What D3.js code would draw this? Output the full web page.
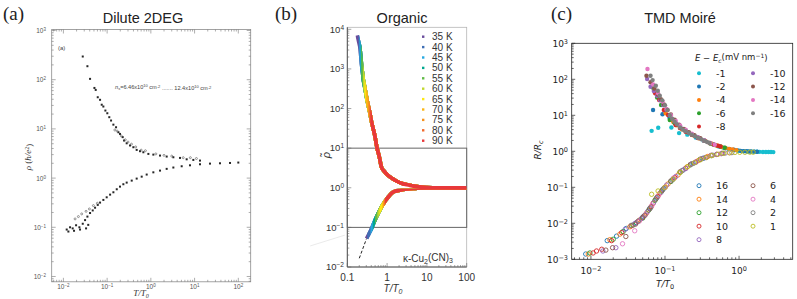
<!DOCTYPE html>
<html><head><meta charset="utf-8">
<script src="https://cdn.jsdelivr.net/npm/d3@7"></script>
<style>body{margin:0;background:#fff}svg{display:block}</style>
</head><body>
<svg id="chart" width="797" height="299"></svg>
<script>
// ================= DATA =================
// ---- Panel (a) Dilute 2DEG : [T/T0, rho (h/e^2)] ----
const aUpper = [[0.0277,296],[0.0354,188],[0.0407,104],[0.0512,68],[0.0548,62],[0.061,44],[0.0689,39],[0.0752,31],[0.082,28.5],[0.0912,23.6],[0.101,20.8],[0.112,17.3],[0.123,14.8],[0.139,12.2],[0.160,10.8],[0.181,8.55],[0.197,7.9],[0.227,6.8],[0.244,5.8],[0.280,5.1],[0.334,4.6],[0.398,4.24],[0.474,3.74],[0.565,3.52],[0.674,3.35],[0.877,3.10],[1.14,3.0],[1.62,2.87],[2.30,2.74],[3.27,2.65],[4.64,2.57],[6.59,2.41],[9.36,2.34],[13.3,2.27]];
const aUpperOpen = [[0.15,9.5],[0.17,9.0],[0.21,7.2],[0.26,6.0],[0.30,5.4],[0.36,4.9],[0.45,4.3],[0.60,3.7],[0.75,3.6],[1.3,3.1],[2.0,2.9],[3.0,2.8],[5.5,2.6],[8.0,2.6],[11,2.5]];
const aLower = [[0.0119,0.090],[0.0130,0.082],[0.0142,0.100],[0.0163,0.095],[0.0175,0.085],[0.0195,0.110],[0.0232,0.100],[0.0240,0.090],[0.0277,0.118],[0.0313,0.140],[0.033,0.095],[0.0354,0.165],[0.037,0.112],[0.0407,0.195],[0.0468,0.220],[0.0530,0.250],[0.061,0.285],[0.0689,0.318],[0.082,0.360],[0.0977,0.407],[0.117,0.461],[0.139,0.515],[0.166,0.593],[0.197,0.671],[0.235,0.750],[0.280,0.810],[0.365,0.889],[0.474,0.977],[0.617,1.07],[0.803,1.18],[1.14,1.31],[1.62,1.42],[2.30,1.54],[3.27,1.64],[5.07,1.74],[7.85,1.82],[13.3,1.91],[22.5,1.97],[38.1,2.0],[64.6,2.03],[100,2.07]];
const aLowerOpen = [[0.0185,0.148],[0.022,0.165],[0.0262,0.187],[0.033,0.211],[0.0393,0.236],[0.0485,0.276],[0.0598,0.308]];
const aXTicks = [0.01,0.1,1,10,100];
const aYTicks = [0.01,0.1,1,10,100,1000];

// ---- Panel (b) Organic : [T/T0, rho~] ----
const bUpper = [[0.178,7000],[0.193,4800],[0.209,3240],[0.219,2000],[0.229,1230],[0.240,830],[0.251,560],[0.269,380],[0.288,263],[0.309,178],[0.335,120],[0.372,74],[0.407,46],[0.447,31],[0.490,21],[0.562,9.8],[0.631,6.3],[0.724,3.3],[0.851,2.6],[1.06,2.04],[1.32,1.75],[1.72,1.48],[2.51,1.26],[3.72,1.15],[5.62,1.07],[9.66,1.01],[20,1.0],[40,1.0],[100,1.0]];
const bLower = [[0.305,0.0525],[0.355,0.0708],[0.407,0.0933],[0.468,0.132],[0.543,0.186],[0.631,0.251],[0.724,0.331],[0.822,0.407],[0.933,0.490],[1.10,0.603],[1.29,0.724],[1.58,0.813],[2.09,0.871],[3.16,0.933],[4.47,0.966],[6.31,0.984],[9.66,1.0],[20,1.0],[40,1.0],[100,1.0]];
const bDashed = [[0.2,0.0166],[0.305,0.0525]];
const bFaint = [[0.0117,0.034],[0.087,0.0638]];
const bTemps = ['35 K','40 K','45 K','50 K','55 K','60 K','65 K','70 K','75 K','80 K','90 K'];
const bColors = ['#6a4c9c','#3f6fb5','#27a9e1','#00a88f','#61bb46','#c1d72f','#fde814','#fbb616','#f6921e','#f16a2d','#e8383a'];
const bUpperStart = [0.178,0.214,0.226,0.243,0.251,0.279,0.302,0.327,0.367,0.40,0.427];
const bLowerStart = [0.305,0.355,0.43,0.49,0.56,0.64,0.72,0.85,0.90,0.95,1.0];
const bXTicks = [0.1,1,10,100];
const bXTickLabels = ['0.1','1','10','100'];
const bYTicks = [0.01,0.1,1,10,100,1000,10000];
const bBox = [0.1,10];

// ---- Panel (c) TMD Moire : [T/T0, R/Rc] ----
const cFilledLabels = ['-1','-2','-4','-6','-8','-10','-12','-14','-16'];
const cFilledColors = ['#17becf','#1f77b4','#ff7f0e','#2ca02c','#d62728','#9467bd','#8c564b','#e377c2','#7f7f7f'];
const cM1  = [[0.066,3.7],[0.081,4.5],[0.122,4.6],[0.155,3.2],[0.2,2.9],[0.26,2.4],[0.33,2.0],[0.42,1.62],[0.52,1.38],[0.62,1.25],[0.72,1.16],[0.85,1.09],[1.0,1.04],[1.15,1.01],[1.3,0.99],[1.45,0.98],[1.6,0.975],[1.75,0.97],[1.9,0.965],[2.1,0.96],[2.3,0.96],[2.5,0.955],[2.7,0.955],[2.9,0.95]];
const cM2  = [[0.069,14],[0.0925,10.7],[0.115,8.6],[0.14,6],[0.17,4.2],[0.21,3.2],[0.27,2.5],[0.35,1.95],[0.45,1.55],[0.55,1.35],[0.65,1.23],[0.75,1.15],[0.85,1.1],[0.95,1.06],[1.05,1.03],[1.15,1.01],[1.25,1.0],[1.35,0.99],[1.45,0.985],[1.6,0.98],[1.75,0.975]];
const cM4  = [[0.102,11.4],[0.129,6.6],[0.145,5.3],[0.17,4.1],[0.2,3.4],[0.24,2.8],[0.29,2.3],[0.35,1.95],[0.42,1.65],[0.5,1.45],[0.58,1.32],[0.66,1.23],[0.74,1.17],[0.82,1.12],[0.92,1.08]];
const cM6  = [[0.069,58],[0.0783,31],[0.0885,19.3],[0.1,14],[0.116,7.4],[0.135,6],[0.16,4.6],[0.19,3.6],[0.23,2.9],[0.28,2.35],[0.34,1.95],[0.41,1.66],[0.48,1.48],[0.56,1.36],[0.64,1.26]];
const cM8  = [[0.0736,41],[0.0834,26.6],[0.0964,14],[0.11,10.2],[0.139,5.4],[0.16,4.4],[0.19,3.5],[0.23,2.9],[0.28,2.35],[0.34,1.97],[0.4,1.7],[0.46,1.52],[0.52,1.42],[0.56,1.37]];
const cM10 = [[0.0574,102],[0.0638,62],[0.0706,47],[0.078,35],[0.086,26],[0.095,19],[0.105,14],[0.118,10],[0.135,7],[0.16,5],[0.19,3.8],[0.23,3.0],[0.28,2.4],[0.34,2.0]];
const cM12 = [[0.0562,126],[0.0638,83],[0.072,55],[0.08,38],[0.088,28],[0.097,20],[0.108,14],[0.12,10.5],[0.135,7.5],[0.155,5.5],[0.18,4.2],[0.21,3.4],[0.25,2.8],[0.3,2.3]];
const cM14 = [[0.058,193],[0.0692,72],[0.0807,41],[0.0925,24],[0.105,15],[0.12,10],[0.14,7],[0.16,5.2],[0.19,4],[0.23,3.1],[0.28,2.45],[0.34,2.0],[0.41,1.7],[0.47,1.52]];
const cM16 = [[0.0638,126],[0.068,95],[0.0752,66],[0.08,48],[0.0851,35],[0.092,26],[0.1,19],[0.108,14],[0.116,10],[0.125,8],[0.135,6.6],[0.145,5.6],[0.16,4.6],[0.175,4.0],[0.19,3.6],[0.21,3.2],[0.23,2.9],[0.255,2.6],[0.28,2.4],[0.31,2.15],[0.34,1.97],[0.37,1.82],[0.4,1.7]];
const cFilled = [cM1,cM2,cM4,cM6,cM8,cM10,cM12,cM14,cM16];

const cOpenLabels = ['16','14','12','10','8','6','4','2','1'];
const cOpenColors = ['#1f77b4','#ff7f0e','#2ca02c','#d62728','#9467bd','#8c564b','#e377c2','#7f7f7f','#bcbd22'];
const cP16 = [[0.0085,0.0014],[0.0166,0.0033],[0.0222,0.0044],[0.03,0.0072],[0.041,0.0104],[0.0507,0.0153],[0.0624,0.026],[0.0768,0.05],[0.094,0.088],[0.128,0.167],[0.175,0.30],[0.24,0.46],[0.33,0.64]];
const cP14 = [[0.0092,0.0014],[0.018,0.0035],[0.0246,0.005],[0.0336,0.008],[0.0457,0.0124],[0.0562,0.019],[0.069,0.036],[0.085,0.068],[0.11,0.124],[0.15,0.22],[0.2,0.37],[0.28,0.55],[0.38,0.72]];
const cP12 = [[0.0097,0.0015],[0.020,0.0036],[0.0272,0.0059],[0.037,0.0089],[0.05,0.014],[0.06,0.023],[0.073,0.043],[0.09,0.078],[0.12,0.145],[0.16,0.26],[0.22,0.42],[0.3,0.6],[0.42,0.76]];
const cP10 = [[0.0107,0.0015],[0.0119,0.0017],[0.014,0.0019],[0.019,0.0033],[0.026,0.0055],[0.035,0.0085],[0.043,0.0112],[0.053,0.0165],[0.065,0.029],[0.08,0.056],[0.1,0.1],[0.135,0.185],[0.19,0.34],[0.26,0.5],[0.36,0.68],[0.5,0.82]];
const cP8  = [[0.0145,0.0017],[0.0217,0.0021],[0.029,0.0068],[0.039,0.0098],[0.048,0.0135],[0.058,0.021],[0.07,0.037],[0.088,0.072],[0.105,0.115],[0.14,0.2],[0.19,0.33],[0.26,0.5],[0.35,0.67],[0.5,0.82],[0.65,0.89]];
const cP6  = [[0.0159,0.0018],[0.0196,0.0021],[0.0296,0.0043],[0.04,0.0095],[0.05,0.0145],[0.062,0.025],[0.075,0.047],[0.092,0.083],[0.12,0.15],[0.16,0.27],[0.22,0.43],[0.3,0.6],[0.42,0.77],[0.58,0.87]];
const cP4  = [[0.0267,0.0027],[0.039,0.0062],[0.045,0.0115],[0.055,0.018],[0.067,0.032],[0.082,0.06],[0.1,0.1],[0.13,0.18],[0.17,0.29],[0.23,0.45],[0.31,0.62],[0.42,0.77],[0.57,0.86],[0.75,0.91]];
const cP2  = [[0.035,0.0088],[0.044,0.0118],[0.054,0.017],[0.064,0.027],[0.078,0.052],[0.096,0.093],[0.125,0.16],[0.17,0.29],[0.23,0.45],[0.32,0.63],[0.44,0.78],[0.6,0.88],[0.8,0.92]];
const cP1  = [[0.066,0.064],[0.0807,0.079],[0.1,0.1],[0.13,0.17],[0.16,0.26],[0.2,0.37],[0.25,0.48],[0.3,0.58],[0.36,0.67],[0.43,0.76],[0.52,0.83],[0.62,0.88],[0.74,0.91],[0.88,0.93],[1.02,0.94],[1.2,0.94],[1.4,0.945],[1.55,0.945]];
const cOpen = [cP16,cP14,cP12,cP10,cP8,cP6,cP4,cP2,cP1];
const cXTicks = [0.01,0.1,1];
const cYTicks = [0.001,0.01,0.1,1,10,100,1000];

// ================= DRAW =================
const svg = d3.select('#chart');
svg.append('rect').attr('width',797).attr('height',299).attr('fill','#fff');

function decadeTicks(scale){
  const [a,b]=scale.domain(); const out=[];
  for(let k=Math.floor(Math.log10(a));k<=Math.ceil(Math.log10(b));k++){
    for(let m=1;m<=9;m++){const v=m*Math.pow(10,k); if(v>=a*0.999&&v<=b*1.001) out.push({v,major:m===1});}
  }
  return out;
}
function expLabel(t, v, supSize){
  const e=Math.round(Math.log10(v));
  t.append('tspan').text('10');
  t.append('tspan').attr('dy','-0.45em').attr('font-size',supSize).text(e<0?'\u2212'+(-e):String(e));
}

// ---------- Panel labels & titles ----------
const serif="'Liberation Serif','DejaVu Serif',serif";
const sans="'Liberation Sans',Arial,sans-serif";
const dj="'DejaVu Sans',sans-serif";
[['(a)',3],['(b)',275],['(c)',551]].forEach(([s,x])=>{
  svg.append('text').attr('x',x).attr('y',20).attr('font-family',serif).attr('font-size',19).attr('fill','#222').text(s);
});
[['Dilute 2DEG',143],['Organic',402],['TMD Moiré',680]].forEach(([s,x])=>{
  svg.append('text').attr('x',x).attr('y',23).attr('text-anchor','middle').attr('font-family',sans).attr('font-size',14.5).attr('fill','#222').text(s);
});

// ---------- Panel (a) ----------
{
  const x=d3.scaleLog().domain([0.0054,192]).range([51.7,250.7]);
  const y=d3.scaleLog().domain([0.0078,1000]).range([281.8,30.5]);
  const g=svg.append('g');
  const [L,R]=x.range(), [B,T]=y.range();
  g.append('rect').attr('x',L).attr('y',T-1).attr('width',R-L).attr('height',B-T+1).attr('fill','none').attr('stroke','#8c8c8c').attr('stroke-width',0.8);
  const tk=g.append('g').attr('stroke','#777').attr('stroke-width',0.6);
  decadeTicks(x).forEach(d=>{const px=x(d.v),l=d.major?4:2;
    tk.append('line').attr('x1',px).attr('x2',px).attr('y1',B).attr('y2',B-l);
    tk.append('line').attr('x1',px).attr('x2',px).attr('y1',T-1).attr('y2',T-1+l);});
  decadeTicks(y).forEach(d=>{const py=y(d.v),l=d.major?4:2;
    tk.append('line').attr('x1',L).attr('x2',L+l).attr('y1',py).attr('y2',py);
    tk.append('line').attr('x1',R).attr('x2',R-l).attr('y1',py).attr('y2',py);});
  aXTicks.forEach(v=>{const t=g.append('text').attr('x',x(v)).attr('y',289).attr('text-anchor','middle').attr('font-family',sans).attr('font-size',6.5).attr('fill','#555'); expLabel(t,v,'4.5px');});
  aYTicks.forEach(v=>{const t=g.append('text').attr('x',46).attr('y',y(v)+2.5).attr('text-anchor','end').attr('font-family',sans).attr('font-size',6.5).attr('fill','#555'); expLabel(t,v,'4.5px');});
  const yl=g.append('text').attr('transform','translate(31,157) rotate(-90)').attr('text-anchor','middle').attr('font-family',serif).attr('font-size',9).attr('fill','#333');
  yl.append('tspan').attr('font-style','italic').text('ρ');
  yl.append('tspan').text(' (');
  yl.append('tspan').attr('font-style','italic').text('h/e');
  yl.append('tspan').attr('dy','-0.4em').attr('font-size','6px').text('2');
  yl.append('tspan').attr('dy','0.4em').text(')');
  const xl=g.append('text').attr('x',141).attr('y',296).attr('text-anchor','middle').attr('font-family',serif).attr('font-size',9).attr('font-style','italic').attr('fill','#333');
  xl.append('tspan').text('T/T');
  xl.append('tspan').attr('dy','0.3em').attr('font-size','6px').text('0');
  g.append('text').attr('x',58).attr('y',50).attr('font-family',sans).attr('font-size',6).attr('fill','#444').text('(a)');
  const an=g.append('text').attr('x',115).attr('y',89).attr('font-family',sans).attr('font-size',5.6).attr('fill','#444');
  an.append('tspan').attr('font-style','italic').text('n');
  an.append('tspan').attr('dy','0.3em').attr('font-size','4px').text('s');
  an.append('tspan').attr('dy','-0.3em').text('=6.46x10');
  an.append('tspan').attr('dy','-0.4em').attr('font-size','4px').text('10');
  an.append('tspan').attr('dy','0.4em').text(' cm');
  an.append('tspan').attr('dy','-0.4em').attr('font-size','4px').text('-2');
  an.append('tspan').attr('dy','0.4em').text(' ....... 12.4x10');
  an.append('tspan').attr('dy','-0.4em').attr('font-size','4px').text('10');
  an.append('tspan').attr('dy','0.4em').text(' cm');
  an.append('tspan').attr('dy','-0.4em').attr('font-size','4px').text('-2');
  const pts=g.append('g');
  pts.selectAll('rect.u').data(aUpper.concat(aLower)).join('rect').attr('x',d=>x(d[0])-1).attr('y',d=>y(d[1])-1).attr('width',2).attr('height',2).attr('fill','#262626');
  pts.selectAll('circle.o').data(aUpperOpen.concat(aLowerOpen)).join('circle').attr('cx',d=>x(d[0])).attr('cy',d=>y(d[1])).attr('r',1).attr('fill','none').attr('stroke','#555').attr('stroke-width',0.6);
}

// ---------- Panel (b) ----------
{
  const x=d3.scaleLog().domain([0.1,100]).range([347.3,466.7]);
  const y=d3.scaleLog().domain([0.01,10000]).range([267,29.3]);
  const g=svg.append('g');
  const [L,R]=x.range(), [B,T]=y.range();
  g.append('rect').attr('x',L).attr('y',T-2).attr('width',R-L).attr('height',B-T+2).attr('fill','none').attr('stroke','#b5b5b5').attr('stroke-width',0.8);
  g.append('line').attr('x1',L).attr('x2',L).attr('y1',T-2).attr('y2',B).attr('stroke','#444').attr('stroke-width',0.9);
  g.append('line').attr('x1',L).attr('x2',R).attr('y1',B).attr('y2',B).attr('stroke','#444').attr('stroke-width',0.9);
  g.append('rect').attr('x',L).attr('y',y(bBox[1])).attr('width',R-L).attr('height',y(bBox[0])-y(bBox[1])).attr('fill','none').attr('stroke','#666').attr('stroke-width',1);
  const tk=g.append('g').attr('stroke','#666').attr('stroke-width',0.6);
  decadeTicks(x).forEach(d=>{const px=x(d.v),l=d.major?4:2; tk.append('line').attr('x1',px).attr('x2',px).attr('y1',B).attr('y2',B-l);});
  decadeTicks(y).forEach(d=>{const py=y(d.v),l=d.major?4:2; tk.append('line').attr('x1',L).attr('x2',L+l).attr('y1',py).attr('y2',py);});
  bXTicks.forEach((v,i)=>g.append('text').attr('x',x(v)).attr('y',281).attr('text-anchor','middle').attr('font-family',sans).attr('font-size',10).attr('fill','#333').text(bXTickLabels[i]));
  bYTicks.forEach(v=>{const t=g.append('text').attr('x',344).attr('y',y(v)+3.2).attr('text-anchor','end').attr('font-family',sans).attr('font-size',9.5).attr('fill','#333'); expLabel(t,v,'6.5px');});
  g.append('text').attr('transform','translate(330,155) rotate(-90)').attr('text-anchor','middle').attr('font-family',sans).attr('font-size',11).attr('font-style','italic').attr('fill','#333').text('ρ\u0303');
  const xl=g.append('text').attr('x',393).attr('y',292).attr('text-anchor','middle').attr('font-family',sans).attr('font-size',10).attr('font-style','italic').attr('fill','#333');
  xl.append('tspan').text('T/T');
  xl.append('tspan').attr('dy','0.3em').attr('font-size','7px').text('0');
  g.append('text').attr('x',428).attr('y',262).attr('text-anchor','middle').attr('font-family',sans).attr('font-size',10).attr('fill','#333')
    .call(t=>{t.append('tspan').text('κ-Cu'); t.append('tspan').attr('dy','0.3em').attr('font-size','7px').text('2'); t.append('tspan').attr('dy','-0.3em').text('(CN)'); t.append('tspan').attr('dy','0.3em').attr('font-size','7px').text('3');});
  const line=d3.line().x(d=>x(d[0])).y(d=>y(d[1])).curve(d3.curveMonotoneX);
  g.append('path').attr('d',line(bFaint)).attr('stroke','#e4e4e4').attr('stroke-width',0.8).attr('fill','none');
  g.append('path').attr('d',line(bDashed)).attr('stroke','#222').attr('stroke-width',1).attr('stroke-dasharray','3,2').attr('fill','none');
  const defs=svg.append('defs');
  bTemps.forEach((t,i)=>{
    defs.append('clipPath').attr('id','cu'+i).append('rect').attr('x',x(bUpperStart[i])-2).attr('y',0).attr('width',R-x(bUpperStart[i])+2).attr('height',y(1.12));
    defs.append('clipPath').attr('id','cl'+i).append('rect').attr('x',x(bLowerStart[i])-2).attr('y',y(1.0)+1).attr('width',R-x(bLowerStart[i])+2).attr('height',300);
  });
  bTemps.forEach((t,i)=>{
    g.append('path').attr('d',line(bUpper)).attr('clip-path',`url(#cu${i})`).attr('stroke',bColors[i]).attr('stroke-width',3.6).attr('fill','none');
    g.append('path').attr('d',line(bLower)).attr('clip-path',`url(#cl${i})`).attr('stroke',bColors[i]).attr('stroke-width',3.6).attr('fill','none');
  });
  defs.append('clipPath').attr('id','ctail').append('rect').attr('x',x(1.0)).attr('y',y(1.12)-1).attr('width',R-x(1.0)).attr('height',y(0.9)-y(1.12)+2);
  g.append('path').attr('d',line(bUpper)).attr('clip-path','url(#ctail)').attr('stroke',bColors[10]).attr('stroke-width',3.6).attr('fill','none');
  bTemps.forEach((t,i)=>{
    const yy=36.7+i*10.4;
    g.append('rect').attr('x',422).attr('y',yy-1.2).attr('width',2.4).attr('height',2.4).attr('fill',bColors[i]);
    g.append('text').attr('x',432).attr('y',yy+3.5).attr('font-family',sans).attr('font-size',10).attr('fill','#333').text(t);
  });
}

// ---------- Panel (c) ----------
{
  const x=d3.scaleLog().domain([0.0055,5.3]).range([571.7,792.7]);
  const y=d3.scaleLog().domain([0.001,1000]).range([259.3,43.3]);
  const g=svg.append('g');
  const [L,R]=x.range(), [B,T]=y.range();
  g.append('rect').attr('x',L).attr('y',T).attr('width',R-L).attr('height',B-T).attr('fill','none').attr('stroke','#222').attr('stroke-width',0.8);
  const tk=g.append('g').attr('stroke','#222').attr('stroke-width',0.7);
  decadeTicks(x).forEach(d=>{const px=x(d.v),l=d.major?3.5:2; tk.append('line').attr('x1',px).attr('x2',px).attr('y1',B).attr('y2',B-l);});
  decadeTicks(y).forEach(d=>{const py=y(d.v),l=d.major?3.5:2; tk.append('line').attr('x1',L).attr('x2',L+l).attr('y1',py).attr('y2',py);});
  cXTicks.forEach(v=>{const t=g.append('text').attr('x',x(v)).attr('y',274).attr('text-anchor','middle').attr('font-family',dj).attr('font-size',9).attr('fill','#222'); expLabel(t,v,'6.5px');});
  cYTicks.forEach(v=>{const t=g.append('text').attr('x',568).attr('y',y(v)+3.2).attr('text-anchor','end').attr('font-family',dj).attr('font-size',9).attr('fill','#222'); expLabel(t,v,'6.5px');});
  const yl=g.append('text').attr('transform','translate(541,150) rotate(-90)').attr('text-anchor','middle').attr('font-family',dj).attr('font-size',9).attr('fill','#222');
  yl.append('tspan').attr('font-style','italic').text('R/R');
  yl.append('tspan').attr('dy','0.3em').attr('font-size','6.5px').attr('font-style','italic').text('c');
  const xl=g.append('text').attr('x',665).attr('y',287).attr('text-anchor','middle').attr('font-family',dj).attr('font-size',9).attr('fill','#222');
  xl.append('tspan').attr('font-style','italic').text('T/T');
  xl.append('tspan').attr('dy','0.3em').attr('font-size','6.5px').text('0');
  cFilled.forEach((s,i)=>{
    g.append('g').selectAll('circle').data(s).join('circle').attr('cx',d=>x(d[0])).attr('cy',d=>y(d[1])).attr('r',2.2).attr('fill',cFilledColors[i]);
  });
  cOpen.forEach((s,i)=>{
    g.append('g').selectAll('circle').data(s).join('circle').attr('cx',d=>x(d[0])).attr('cy',d=>y(d[1])).attr('r',2.2).attr('fill','none').attr('stroke',cOpenColors[i]).attr('stroke-width',0.9);
  });
  const lt=g.append('text').attr('x',695).attr('y',61).attr('font-family',dj).attr('font-size',8.5).attr('fill','#222');
  lt.append('tspan').attr('font-style','italic').text('E');
  lt.append('tspan').text(' \u2212 ');
  lt.append('tspan').attr('font-style','italic').text('E');
  lt.append('tspan').attr('dy','0.3em').attr('font-size','6px').attr('font-style','italic').text('c');
  lt.append('tspan').attr('dy','-0.3em').text('(mV nm');
  lt.append('tspan').attr('dy','-0.4em').attr('font-size','6px').text('\u22121');
  lt.append('tspan').attr('dy','0.4em').text(')');
  cFilledLabels.forEach((s,i)=>{
    const col=i<5?0:1, row=i<5?i:i-5;
    const mx=col?753:699, yy=73.3+row*13.3;
    g.append('circle').attr('cx',mx).attr('cy',yy).attr('r',2).attr('fill',cFilledColors[i]);
    g.append('text').attr('x',mx+17).attr('y',yy+3.3).attr('font-family',dj).attr('font-size',9.5).attr('fill','#222').text(s);
  });
  cOpenLabels.forEach((s,i)=>{
    const col=i<5?0:1, row=i<5?i:i-5;
    const mx=col?753:699, yy=185.7+row*13.5;
    g.append('circle').attr('cx',mx).attr('cy',yy).attr('r',2).attr('fill','none').attr('stroke',cOpenColors[i]).attr('stroke-width',0.9);
    g.append('text').attr('x',mx+17).attr('y',yy+3.3).attr('font-family',dj).attr('font-size',9.5).attr('fill','#222').text(s);
  });
}
</script>
</body></html>
